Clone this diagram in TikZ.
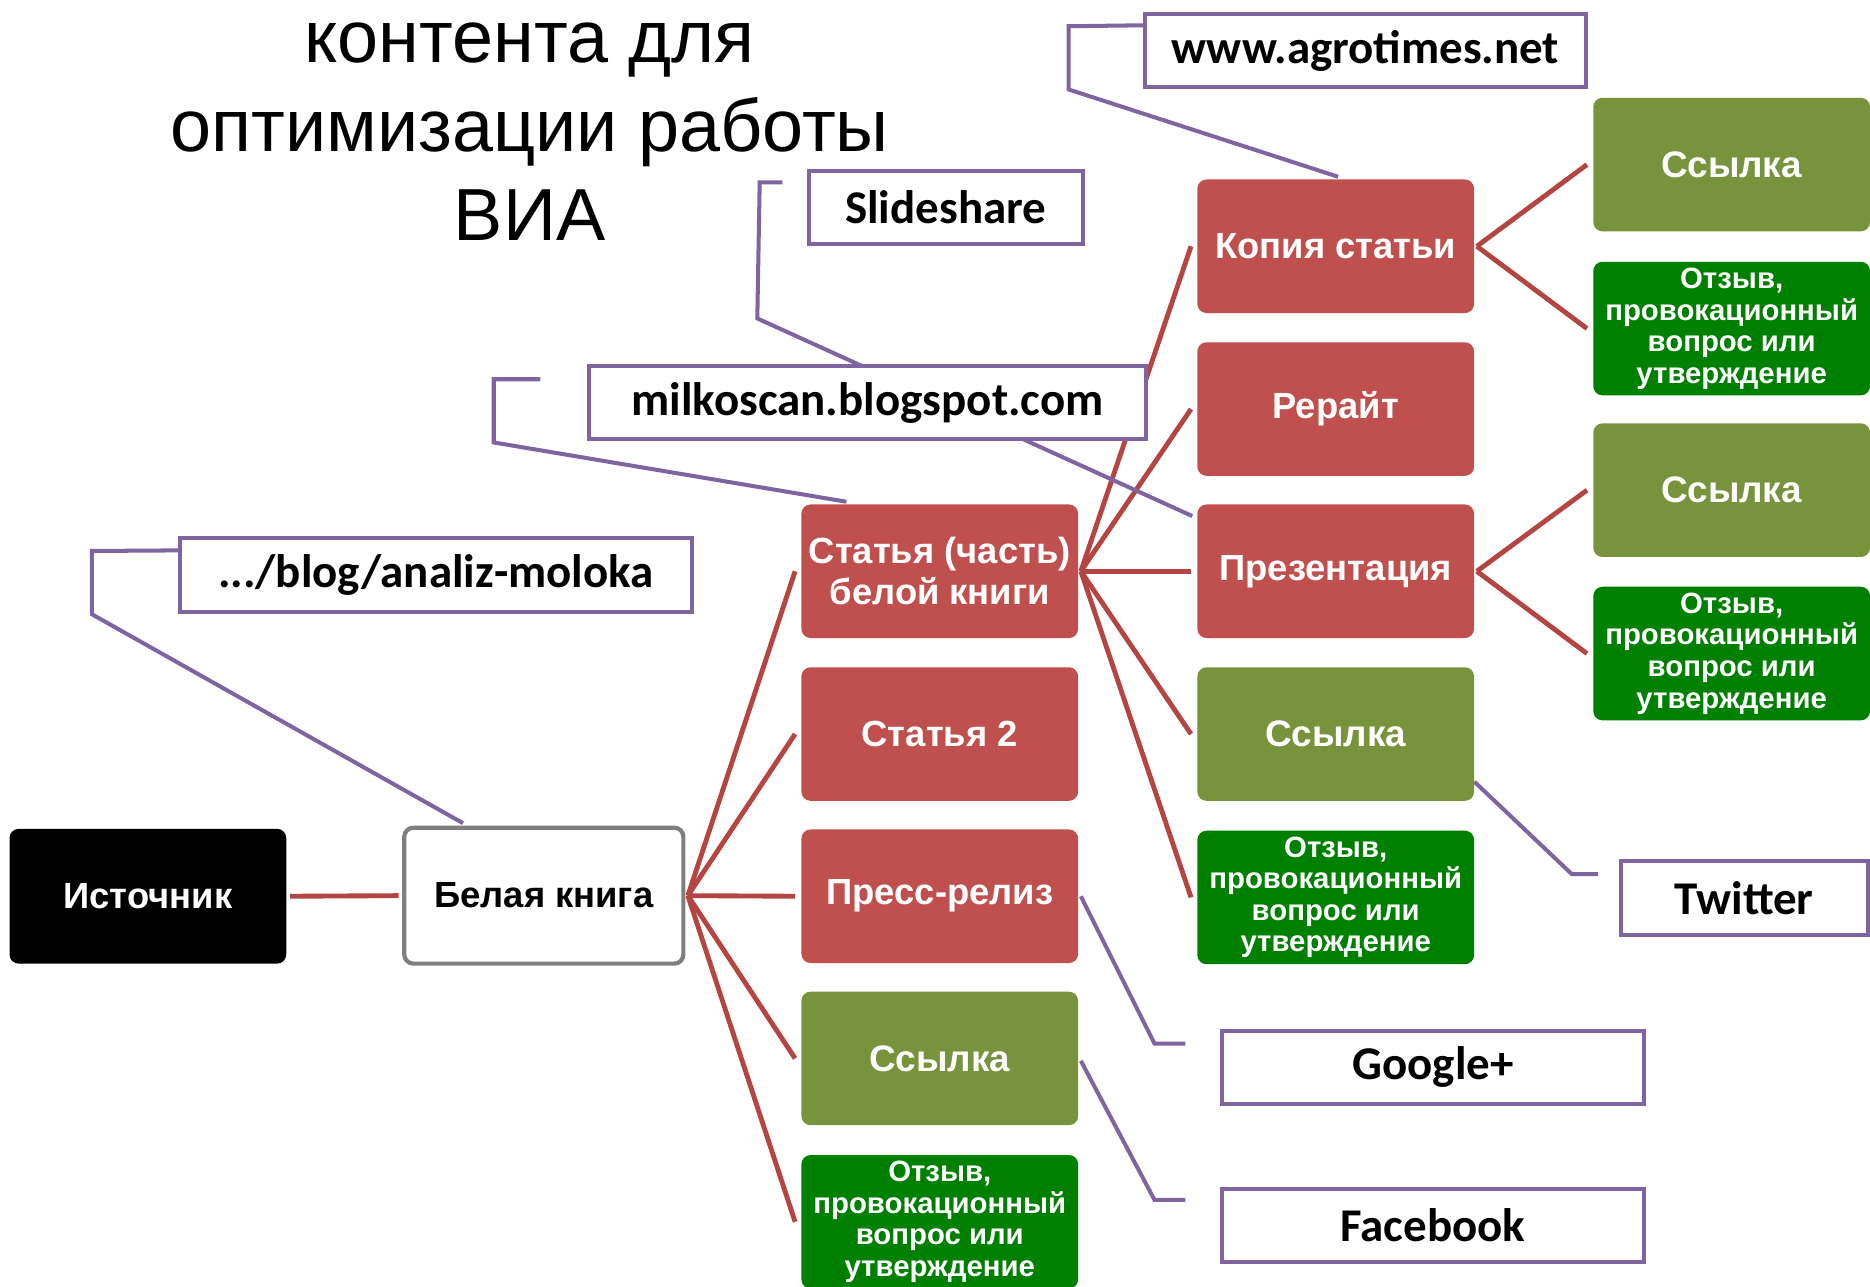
\documentclass[tikz,border=0pt]{standalone}
\usepackage{fontspec}
\setmainfont{Liberation Sans}
\newfontfamily\calfont{Carlito}
\usetikzlibrary{calc}
\definecolor{boxred}{HTML}{C0504D}
\definecolor{boxolive}{HTML}{77933C}
\definecolor{boxgreen}{HTML}{008000}
\definecolor{calpurple}{HTML}{8064A2}
\definecolor{linered}{HTML}{B44542}
\definecolor{bordergray}{HTML}{7F7F7F}
\pgfdeclarelayer{bg}
\pgfsetlayers{bg,main}
\tikzset{
  box/.style={rounded corners=5.5pt, minimum width=5.8cm, minimum height=2.8cm,
    text=white, align=center, inner sep=0pt,
    font=\bfseries\fontsize{21.7}{24.2}\selectfont},
  redbox/.style={box, fill=boxred},
  olivebox/.style={box, fill=boxolive, font=\bfseries\fontsize{22}{24}\selectfont},
  greenbox/.style={box, fill=boxgreen, font=\bfseries\fontsize{17.5}{18.8}\selectfont},
  callout/.style={draw=calpurple, line width=2.4pt, fill=white, inner sep=0pt,
    minimum height=1.54cm, font=\calfont\bfseries\fontsize{28}{30}\selectfont},
  pline/.style={draw=calpurple, line width=2.4pt},
  rline/.style={draw=linered, line width=2.9pt},
  titletext/.style={anchor=base, inner sep=0pt, font=\fontsize{44}{53}\selectfont}
}
\begin{document}
\begin{tikzpicture}[x=0.025cm,y=-0.025cm]
\useasboundingbox (0,0) rectangle (1568,1079);

% title
\node[titletext] (t1) at (444,52) {контента для};
\node[titletext] (t2) at (444,127) {оптимизации работы};
\node[titletext] (t3) at (444,202) {ВИА};

% root and level 1
\node[box, fill=black, minimum height=2.825cm] (src) at (124,751.5) {Источник};
\node[box, fill=white, draw=bordergray, line width=2.5pt, text=black,
      minimum width=5.85cm, minimum height=2.85cm] (wb) at (456,751) {Белая книга};

% column 2
\node[redbox] (c2a) at (788,479) {Статья (часть)\\белой книги};
\node[redbox] (c2b) at (788,615.5) {Статья 2};
\node[redbox] (c2c) at (788,751.5) {Пресс-релиз};
\node[olivebox] (c2d) at (788,887.5) {Ссылка};
\node[greenbox] (c2e) at (788,1024.5) {Отзыв,\\провокационный\\вопрос или\\утверждение};

% column 3
\node[redbox] (kopia) at (1120,206.5) {Копия статьи};
\node[redbox] (rer) at (1120,343) {Рерайт};
\node[redbox] (prez) at (1120,479) {Презентация};
\node[olivebox] (s3) at (1120,615.5) {Ссылка};
\node[greenbox] (o3) at (1120,752.5) {Отзыв,\\провокационный\\вопрос или\\утверждение};

% column 4
\node[olivebox] (s4a) at (1452,138) {Ссылка};
\node[greenbox] (o4a) at (1452,275.5) {Отзыв,\\провокационный\\вопрос или\\утверждение};
\node[olivebox] (s4b) at (1452,411) {Ссылка};
\node[greenbox] (o4b) at (1452,548) {Отзыв,\\провокационный\\вопрос или\\утверждение};

% callouts
\node[callout, minimum width=9.25cm, minimum height=1.53cm] (agro) at (1145,42.5) {www.agrotimes.net};
\node[callout, minimum width=5.75cm] (slide) at (793,174) {Slideshare};
\node[callout, minimum width=11.68cm, minimum height=1.53cm] (milko) at (727.5,337.5) {milkoscan.blogspot.com};
\node[callout, minimum width=10.73cm] (analiz) at (365.5,482) {.../blog/analiz-moloka};
\node[callout, minimum width=5.18cm] (tw) at (1462.5,753) {Twitter};
\node[callout, minimum width=8.83cm] (gp) at (1201.5,895) {Google+};
\node[callout, minimum width=8.83cm, minimum height=1.53cm] (fb) at (1201.5,1027.5) {Facebook};

% bend points of callout lines
\coordinate (agA) at (896,22);
\coordinate (agB) at (896,75);
\coordinate (slS) at (656,153);
\coordinate (slA) at (637,153);
\coordinate (slB) at (635,267);
\coordinate (miS) at (453,318);
\coordinate (miA) at (414,318);
\coordinate (miB) at (414,371);
\coordinate (anA) at (77,462);
\coordinate (anB) at (77,515);
\coordinate (twA) at (1318,733);
\coordinate (twE) at (1340,733);
\coordinate (gpA) at (968,875);
\coordinate (gpE) at (994,875);
\coordinate (fbA) at (968,1006);
\coordinate (fbE) at (994,1006);

\begin{pgfonlayer}{bg}
  % red connectors
  \draw[rline] ($(src.east)+(3,0)$) -- ($(wb.west)+(-3,0)$);
  \foreach \t in {c2a,c2b,c2c,c2d,c2e}
    \draw[rline] ($(wb.east)+(2,0)$) -- ($(\t.west)+(-5,0)$);
  \foreach \t in {kopia,rer,prez,s3,o3}
    \draw[rline] ($(c2a.east)+(2,0)$) -- ($(\t.west)+(-5,0)$);
  \foreach \t in {s4a,o4a}
    \draw[rline] ($(kopia.east)+(2,0)$) -- ($(\t.west)+(-5,0)$);
  \foreach \t in {s4b,o4b}
    \draw[rline] ($(prez.east)+(2,0)$) -- ($(\t.west)+(-5,0)$);
  % purple callout lines
  \draw[pline] ($(agro.north west)+(0,11)$) -- (agA) -- (agB) -- ($(kopia.north)+(2,-2)$);
  \draw[pline] (slS) -- (slA) -- (slB) -- ($(prez.north west)+(-4,10)$);
  \draw[pline] (miS) -- (miA) -- (miB) -- ($(c2a.north west)+(38,-2)$);
  \draw[pline] ($(analiz.north west)+(0,12)$) -- (anA) -- (anB) -- ($(wb.north west)+(51,-2)$);
  \draw[pline] ($(s3.east)+(0,40)$) -- (twA) -- (twE);
  \draw[pline] ($(c2c.east)+(2,0)$) -- (gpA) -- (gpE);
  \draw[pline] ($(c2d.east)+(2,2)$) -- (fbA) -- (fbE);
\end{pgfonlayer}
\end{tikzpicture}
\end{document}
